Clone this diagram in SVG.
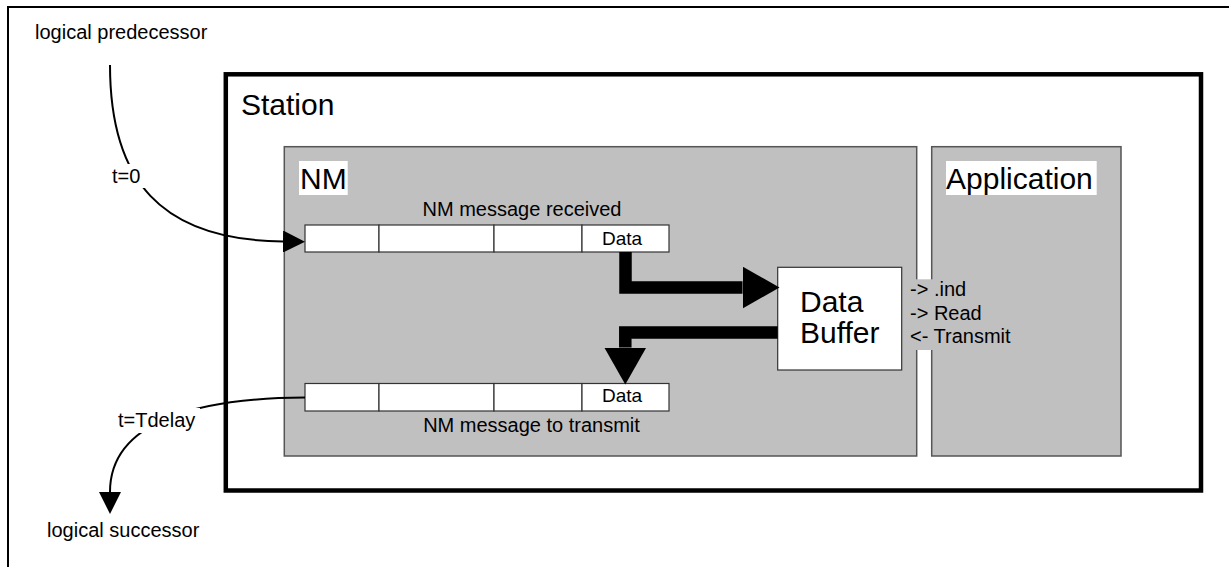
<svg xmlns="http://www.w3.org/2000/svg" width="1229" height="567" viewBox="0 0 1229 567">
  <style>
    text { font-family: "Liberation Sans", Arial, sans-serif; fill: #000; }
    .big { font-size: 30px; }
    .small { font-size: 20px; }
    .cell-text { font-size: 19px; }
    .frame { fill: none; stroke: #000; stroke-width: 2; }
    .station { fill: #fff; stroke: #000; stroke-width: 4.5; }
    .module { fill: #c0c0c0; stroke: #555; stroke-width: 1.5; }
    .cell { fill: #fff; stroke: #333; stroke-width: 1.2; }
    .buffer { fill: #fff; stroke: #333; stroke-width: 1.2; }
    .wire { fill: none; stroke: #000; stroke-width: 2; }
    .thick { fill: none; stroke: #000; stroke-width: 12.5; stroke-linejoin: miter; }
    .lbl-bg { fill: #fff; }
    .gray-bg { fill: #c0c0c0; }
  </style>
  <defs>
    <marker id="arrow-thin" markerUnits="userSpaceOnUse" viewBox="0 -11 22 22" refX="0" refY="0" markerWidth="22" markerHeight="22" orient="auto">
      <path d="M0,-11 L22,0 L0,11 Z" fill="#000"/>
    </marker>
    <marker id="arrow-thick" markerUnits="userSpaceOnUse" viewBox="0 -21 37 42" refX="0" refY="0" markerWidth="37" markerHeight="42" orient="auto">
      <path d="M0,-21 L37,0 L0,21 Z" fill="#000"/>
    </marker>
  </defs>

  <rect class="frame" x="8" y="7" width="1240" height="580"/>

  <g id="station">
    <rect class="station" x="225.8" y="74.3" width="975.2" height="416.2"/>
    <text class="big" x="241" y="115">Station</text>
  </g>

  <g id="nm">
    <rect class="module" x="284.3" y="146.7" width="632.4" height="309.3"/>
    <rect class="lbl-bg" x="299" y="161" width="48.7" height="34"/>
    <text class="big" x="300" y="189.3">NM</text>
  </g>

  <g id="application">
    <rect class="module" x="931.7" y="146.7" width="189.3" height="309.3"/>
    <rect class="lbl-bg" x="946" y="161" width="150.7" height="34"/>
    <text class="big" x="946" y="189.3">Application</text>
  </g>

  <g id="msg-received">
    <text class="small" x="522" y="216" text-anchor="middle">NM message received</text>
    <rect class="cell" x="305" y="225" width="74" height="27"/>
    <rect class="cell" x="379" y="225" width="115" height="27"/>
    <rect class="cell" x="494" y="225" width="88" height="27"/>
    <rect class="cell" x="582" y="225" width="87" height="27"/>
    <text class="cell-text" x="622" y="245" text-anchor="middle">Data</text>
  </g>

  <g id="msg-transmit">
    <rect class="cell" x="305" y="383.5" width="74" height="27.5"/>
    <rect class="cell" x="379" y="383.5" width="115" height="27.5"/>
    <rect class="cell" x="494" y="383.5" width="88" height="27.5"/>
    <rect class="cell" x="582" y="383.5" width="87" height="27.5"/>
    <text class="cell-text" x="622" y="402.3" text-anchor="middle">Data</text>
    <text class="small" x="531.5" y="432.3" text-anchor="middle">NM message to transmit</text>
  </g>

  <g id="data-buffer">
    <rect class="buffer" x="777.7" y="267.3" width="124" height="102.7"/>
    <text class="big" x="800" y="311.7">Data</text>
    <text class="big" x="800" y="343.3">Buffer</text>
  </g>

  <g id="interface">
    <rect class="gray-bg" x="906" y="279.3" width="110" height="70.7"/>
    <text class="small" x="910" y="296">-&gt; .ind</text>
    <text class="small" x="910" y="319.5">-&gt; Read</text>
    <text class="small" x="910" y="343.3">&lt;- Transmit</text>
  </g>

  <g id="predecessor">
    <text class="small" x="35" y="39">logical predecessor</text>
  </g>

  <g id="successor">
    <text class="small" x="47" y="537">logical successor</text>
  </g>

  <g id="connectors">
    <path class="wire" d="M110,65 C110,180 160,240 283,241.5" marker-end="url(#arrow-thin)"/>
    <rect class="lbl-bg" x="110" y="164" width="40" height="24"/>
    <text class="small" x="112" y="182.7">t=0</text>

    <path class="wire" d="M305,397.5 C200,398 110,420 110,492" marker-end="url(#arrow-thin)"/>
    <rect class="lbl-bg" x="115" y="408" width="85" height="25"/>
    <text class="small" x="118" y="427.3">t=Tdelay</text>

    <path class="thick" d="M625.5,252 V287.5 H742.5" marker-end="url(#arrow-thick)"/>
    <path class="thick" d="M777.7,332.5 H625.3 V347.5" marker-end="url(#arrow-thick)"/>
  </g>
</svg>
